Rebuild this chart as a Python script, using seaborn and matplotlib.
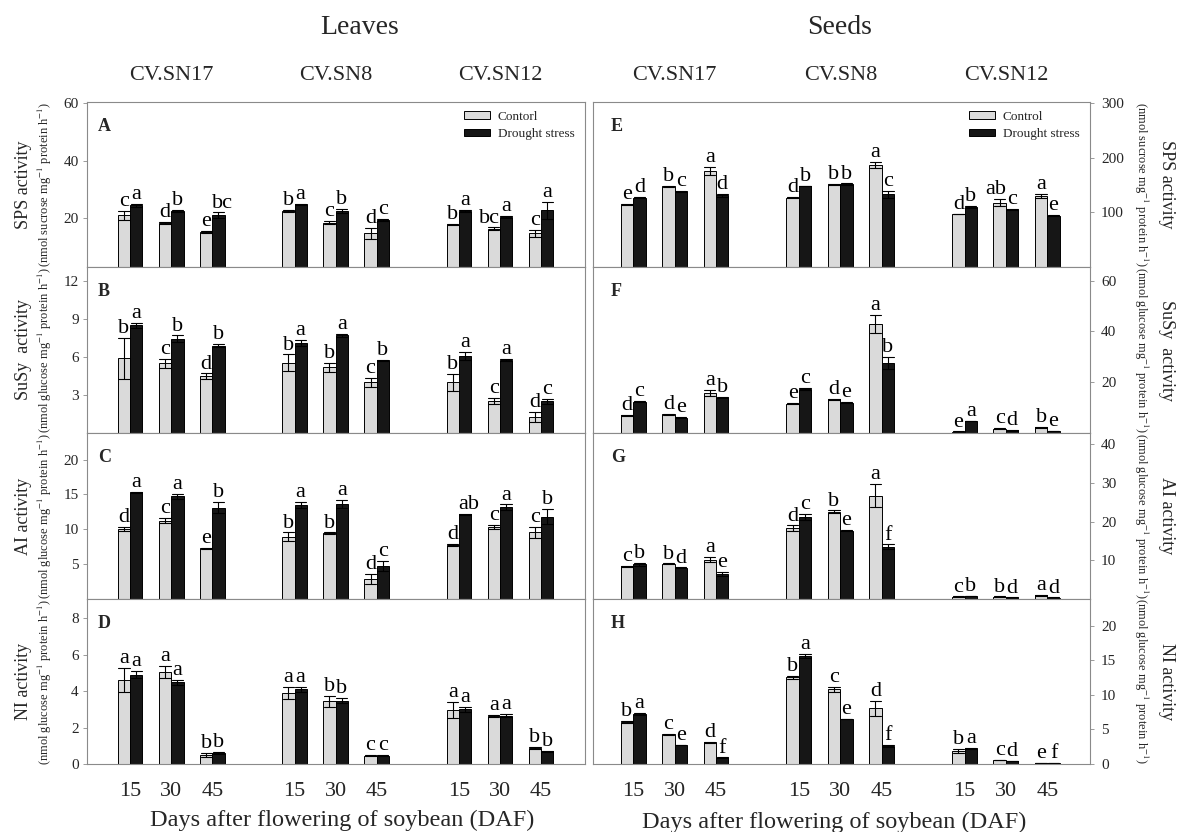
import numpy as np
import pandas as pd
import matplotlib
matplotlib.use("Agg")
import matplotlib.pyplot as plt
import matplotlib.transforms as mtransforms
import seaborn as sns

# ---------------- data ----------------
positions = [0, 1, 2, 4, 5, 6, 8, 9, 10]
day_labels = ["15", "30", "45", "15", "30", "45", "15", "30", "45"]
cultivars = ["CV.SN17", "CV.SN8", "CV.SN12"]
cultivar_centers = [1, 5, 9]

# Leaves
A_ctrl = [21.0, 18.4, 15.2, 22.5, 18.5, 14.7, 17.8, 16.4, 14.7]
A_ctrl_se = [1.6, 0.3, 0.5, 0.4, 0.6, 1.8, 0.3, 0.4, 1.3]
A_dr = [24.5, 22.5, 21.0, 24.8, 22.5, 19.5, 22.5, 20.5, 22.8]
A_dr_se = [0.5, 0.3, 1.0, 0.3, 0.8, 0.3, 0.3, 0.4, 3.0]
A_ctrl_let = ["c", "d", "e", "b", "c", "d", "b", "bc", "c"]
A_dr_let = ["a", "b", "bc", "a", "b", "c", "a", "a", "a"]

B_ctrl = [5.9, 5.5, 4.5, 5.55, 5.2, 4.0, 4.0, 2.55, 1.25]
B_ctrl_se = [1.6, 0.35, 0.2, 0.65, 0.35, 0.35, 0.65, 0.25, 0.4]
B_dr = [8.5, 7.45, 6.9, 7.1, 7.7, 5.75, 6.1, 5.75, 2.5]
B_dr_se = [0.2, 0.25, 0.15, 0.25, 0.15, 0.05, 0.3, 0.08, 0.2]
B_ctrl_let = ["b", "c", "d", "b", "b", "c", "b", "c", "d"]
B_dr_let = ["a", "b", "b", "a", "a", "b", "a", "a", "c"]

C_ctrl = [10.05, 11.25, 7.25, 8.95, 9.4, 2.85, 7.75, 10.3, 9.55]
C_ctrl_se = [0.3, 0.4, 0.1, 0.6, 0.15, 0.7, 0.2, 0.3, 0.8]
C_dr = [15.3, 14.7, 13.1, 13.5, 13.65, 4.75, 12.15, 13.15, 11.8]
C_dr_se = [0.05, 0.4, 0.8, 0.4, 0.6, 0.7, 0.1, 0.4, 1.1]
C_ctrl_let = ["d", "c", "e", "b", "b", "d", "d", "c", "c"]
C_dr_let = ["a", "a", "b", "a", "a", "c", "ab", "a", "b"]

D_ctrl = [4.6, 5.05, 0.5, 3.9, 3.45, 0.46, 2.97, 2.62, 0.88]
D_ctrl_se = [0.65, 0.35, 0.12, 0.35, 0.3, 0.02, 0.45, 0.05, 0.05]
D_dr = [4.9, 4.48, 0.59, 4.1, 3.47, 0.46, 3.0, 2.66, 0.7]
D_dr_se = [0.2, 0.15, 0.05, 0.15, 0.15, 0.02, 0.15, 0.1, 0.02]
D_ctrl_let = ["a", "a", "b", "a", "b", "c", "a", "a", "b"]
D_dr_let = ["a", "a", "b", "a", "b", "c", "a", "a", "b"]

# Seeds
E_ctrl = [114, 148, 176, 127, 151, 187, 97, 118, 130]
E_ctrl_se = [1, 1, 7, 1, 0.5, 5, 0.5, 7, 3]
E_dr = [127, 139, 131, 148, 152, 133, 110, 105, 94]
E_dr_se = [1, 1, 3, 0.5, 1, 7, 1.5, 1.5, 1]
E_ctrl_let = ["e", "b", "a", "d", "b", "a", "d", "ab", "a"]
E_dr_let = ["d", "c", "d", "b", "b", "c", "b", "c", "e"]

F_ctrl = [6.9, 7.3, 15.6, 11.6, 13.2, 43.0, 0.5, 1.7, 2.35]
F_ctrl_se = [0.3, 0.3, 1.2, 0.3, 0.2, 3.5, 0.1, 0.2, 0.2]
F_dr = [12.3, 6.0, 13.9, 17.5, 11.9, 27.6, 4.7, 1.05, 0.8]
F_dr_se = [0.2, 0.2, 0.2, 0.4, 0.2, 2.2, 0.1, 0.1, 0.1]
F_ctrl_let = ["d", "d", "a", "e", "d", "a", "e", "c", "b"]
F_dr_let = ["c", "e", "b", "c", "e", "b", "a", "d", "e"]

G_ctrl = [8.4, 9.1, 10.2, 18.3, 22.6, 26.7, 0.6, 0.6, 0.95]
G_ctrl_se = [0.2, 0.1, 0.6, 0.7, 0.3, 3.0, 0.05, 0.05, 0.05]
G_dr = [8.95, 8.1, 6.5, 21.1, 17.6, 13.5, 0.7, 0.35, 0.35]
G_dr_se = [0.3, 0.05, 0.5, 0.8, 0.15, 0.6, 0.05, 0.05, 0.05]
G_ctrl_let = ["c", "b", "a", "d", "b", "a", "c", "b", "a"]
G_dr_let = ["b", "d", "e", "c", "e", "f", "b", "d", "d"]

H_ctrl = [6.1, 4.3, 3.15, 12.55, 10.8, 8.05, 1.9, 0.6, 0.15]
H_ctrl_se = [0.1, 0.05, 0.05, 0.2, 0.35, 1.1, 0.3, 0.05, 0.02]
H_dr = [7.3, 2.75, 0.9, 15.7, 6.5, 2.6, 2.25, 0.45, 0.1]
H_dr_se = [0.15, 0.05, 0.05, 0.3, 0.05, 0.15, 0.1, 0.03, 0.02]
H_ctrl_let = ["b", "c", "d", "b", "c", "d", "b", "c", "e"]
H_dr_let = ["a", "e", "f", "a", "e", "f", "a", "d", "f"]

sps_units = r"(nmol sucrose mg$^{-1}$ protein h$^{-1}$)"
glc_units = r"(nmol glucose mg$^{-1}$ protein h$^{-1}$)"

panels = [
    ("A", "L", 0, A_ctrl, A_ctrl_se, A_dr, A_dr_se, A_ctrl_let, A_dr_let, (3, 60.5), [20, 40, 60], "SPS activity", sps_units),
    ("B", "L", 1, B_ctrl, B_ctrl_se, B_dr, B_dr_se, B_ctrl_let, B_dr_let, (0, 13.1), [3, 6, 9, 12], "SuSy  activity", glc_units),
    ("C", "L", 2, C_ctrl, C_ctrl_se, C_dr, C_dr_se, C_ctrl_let, C_dr_let, (0, 23.8), [5, 10, 15, 20], "AI activity", glc_units),
    ("D", "L", 3, D_ctrl, D_ctrl_se, D_dr, D_dr_se, D_ctrl_let, D_dr_let, (0, 9.05), [0, 2, 4, 6, 8], "NI activity", glc_units),
    ("E", "R", 0, E_ctrl, E_ctrl_se, E_dr, E_dr_se, E_ctrl_let, E_dr_let, (0, 302), [100, 200, 300], "SPS activity", sps_units),
    ("F", "R", 1, F_ctrl, F_ctrl_se, F_dr, F_dr_se, F_ctrl_let, F_dr_let, (0, 65.4), [20, 40, 60], "SuSy  activity", glc_units),
    ("G", "R", 2, G_ctrl, G_ctrl_se, G_dr, G_dr_se, G_ctrl_let, G_dr_let, (0, 42.9), [10, 20, 30, 40], "AI activity", glc_units),
    ("H", "R", 3, H_ctrl, H_ctrl_se, H_dr, H_dr_se, H_ctrl_let, H_dr_let, (0, 23.9), [0, 5, 10, 15, 20], "NI activity", glc_units),
]

# ---------------- style ----------------
sns.set_theme(style="white")
plt.rcParams["font.family"] = ["Liberation Serif", "DejaVu Serif"]
plt.rcParams["mathtext.fontset"] = "stix"
plt.rcParams["axes.edgecolor"] = "#8a8a8a"
plt.rcParams["axes.linewidth"] = 0.8

W, H = 1178, 832
fig = plt.figure(figsize=(W / 100, H / 100), dpi=100)
fig.patch.set_facecolor("white")

row_px = [(102, 267), (267, 433), (433, 599), (599, 764)]
col_px = {"L": (87, 585), "R": (593, 1090)}
xlims = {"L": (-1.05, 11.07), "R": (-0.97, 11.03)}

ctrl_color = "#dadada"
dr_color = "#161616"

for (name, side, row, c, cse, d, dse, clet, dlet, ylim, yt, title, units) in panels:
    x0, x1 = col_px[side]
    ytop, ybot = row_px[row]
    ax = fig.add_axes([x0 / W, 1 - ybot / H, (x1 - x0) / W, (ybot - ytop) / H])

    rows = []
    for p, v, e in zip(positions, c, cse):
        rows.append((p, "Control", v - e))
        rows.append((p, "Control", v + e))
    for p, v, e in zip(positions, d, dse):
        rows.append((p, "Drought stress", v - e))
        rows.append((p, "Drought stress", v + e))
    df = pd.DataFrame(rows, columns=["pos", "trt", "val"])

    sns.barplot(data=df, x="pos", y="val", hue="trt",
                hue_order=["Control", "Drought stress"],
                palette={"Control": ctrl_color, "Drought stress": dr_color},
                native_scale=True, width=0.6,
                errorbar=lambda v: (np.min(v), np.max(v)),
                capsize=0.55, err_kws={"color": "black", "linewidth": 0.8},
                edgecolor="black", linewidth=0.7,
                legend=(row == 0), ax=ax)

    ax.set_xlim(*xlims[side])
    ax.set_ylim(*ylim)
    ax.set_yticks(yt)
    ax.set_xlabel("")
    ax.set_ylabel("")
    for s in ax.spines.values():
        s.set_color("#8a8a8a")
        s.set_linewidth(0.8)

    # significance letters
    for k, (cont, vals, errs, lets) in enumerate(((ax.containers[0], c, cse, clet),
                                                  (ax.containers[1], d, dse, dlet))):
        for patch, v, e, t in zip(cont.patches, vals, errs, lets):
            xc = patch.get_x() + patch.get_width() / 2
            dx = 0
            if len(t) > 1:
                dx = -3 if k == 0 else 3
            ax.annotate(t, (xc, v + e), xytext=(dx, 3.5), textcoords="offset points",
                        ha="center", va="baseline", fontsize=16, color="black")

    # panel letter
    ax.text(0.022 if side == "L" else 0.036, 0.85, name, transform=ax.transAxes,
            fontsize=13, fontweight="bold", ha="left", va="center")

    if side == "L":
        ax.tick_params(axis="y", left=True, right=False, direction="out",
                       length=3, width=0.6, color="#8a8a8a", labelsize=11, pad=3)
    else:
        ax.yaxis.tick_right()
        ax.tick_params(axis="y", left=False, right=True, labelleft=False, labelright=True,
                       direction="out", length=3, width=0.6, color="#8a8a8a",
                       labelsize=11, pad=5)

    ax.set_xticks(positions)
    if row == 3:
        ax.set_xticklabels(day_labels)
        ax.tick_params(axis="x", length=0, labelsize=16, pad=13)
    else:
        ax.tick_params(axis="x", length=0, labelbottom=False)

    if row == 0:
        handles, _ = ax.get_legend_handles_labels()
        labs = ["Contorl", "Drought stress"] if side == "L" else ["Control", "Drought stress"]
        ax.legend(handles=handles, labels=labs, loc="upper right",
                  bbox_to_anchor=(0.995, 0.995), frameon=False, fontsize=9.5,
                  handlelength=2.0, handleheight=0.45, labelspacing=0.4,
                  handletextpad=0.6, borderaxespad=0.2)
        tr = mtransforms.blended_transform_factory(ax.transData, fig.transFigure)
        for cx, cv in zip(cultivar_centers, cultivars):
            ax.text(cx, 1 - 75 / H, cv, transform=tr, ha="center", va="center", fontsize=16)

    # y labels
    yc = 1 - (ytop + ybot) / 2 / H
    if side == "L":
        fig.text(24 / W, yc, title, rotation=90, ha="center", va="center", fontsize=13)
        fig.text(45 / W, yc, units, rotation=90, ha="center", va="center", fontsize=9)
    else:
        fig.text(1167 / W, yc, title, rotation=270, ha="center", va="center", fontsize=13)
        fig.text(1141 / W, yc, units, rotation=270, ha="center", va="center", fontsize=9)

# titles
fig.text(360 / W, 1 - 27 / H, "Leaves", ha="center", va="center", fontsize=20)
fig.text(840 / W, 1 - 27 / H, "Seeds", ha="center", va="center", fontsize=20)
fig.text(342 / W, 1 - 820 / H, "Days after flowering of soybean (DAF)", ha="center", va="center", fontsize=17.5)
fig.text(834 / W, 1 - 822 / H, "Days after flowering of soybean (DAF)", ha="center", va="center", fontsize=17.5)

fig.savefig("out.png", dpi=100, facecolor="white")
